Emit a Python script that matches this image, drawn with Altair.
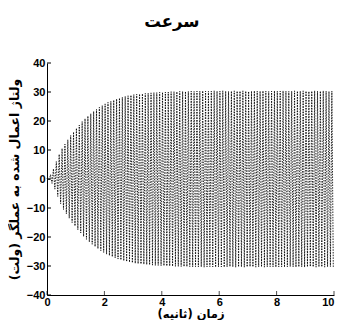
import altair as alt
import pandas as pd

# peak amplitude of each oscillation cycle (0.1 s per cycle)
amp = [0.5, 1.5, 3.5, 6.0, 8.5, 10.5, 12.0, 13.5, 15.0, 16.2,
       17.5, 18.6, 19.8, 20.8, 21.7, 22.5, 23.3, 24.0, 24.7, 25.3,
       25.9, 26.4, 26.8, 27.2, 27.6, 27.9, 28.2, 28.5, 28.7, 28.9,
       29.1, 29.2, 29.3, 29.4, 29.5, 29.6, 29.7, 29.8, 29.8, 29.9,
       29.9, 30.0, 30.0, 30.1, 30.1, 30.1, 30.2, 30.2, 30.2, 30.2,
       30.3, 30.2, 30.3, 30.3, 30.4, 30.3, 30.2, 30.3, 30.4, 30.3,
       30.3, 30.4, 30.3, 30.2, 30.3, 30.4, 30.3, 30.3, 30.4, 30.3,
       30.2, 30.3, 30.4, 30.3, 30.3, 30.4, 30.3, 30.2, 30.3, 30.4,
       30.3, 30.3, 30.4, 30.3, 30.2, 30.3, 30.4, 30.3, 30.3, 30.4,
       30.3, 30.2, 30.3, 30.4, 30.3, 30.3, 30.4, 30.3, 30.2, 30.3]
cycle = 0.1
x_ticks = [0, 2, 4, 6, 8, 10]
y_ticks = [-40, -30, -20, -10, 0, 10, 20, 30, 40]

rows = [{"t": 0.0, "v": 0.0}]
for i, a in enumerate(amp):
    rows.append({"t": i * cycle + cycle * 0.25, "v": a})
    rows.append({"t": i * cycle + cycle * 0.75, "v": -a})
df = pd.DataFrame(rows)

lab_font = "Liberation Sans"

x_scale = alt.Scale(domain=[0, 10], nice=False)
y_scale = alt.Scale(domain=[-40, 40], nice=False)

x_axis = alt.Axis(
    values=x_ticks, title="زمان (ثانیه)", ticks=False, grid=False,
    labelOverlap=False, labelFlush=False,
    labelAlign={"condition": {"test": "datum.value == 10", "value": "right"},
                "value": "center"},
    labelFont=lab_font, labelFontWeight="bold", labelFontSize=11,
    labelColor="black", labelPadding=1, domainColor="black",
    titleFont="DejaVu Sans", titleFontSize=11.5, titleFontWeight="bold",
    titleColor="black", titlePadding=1)
y_axis = alt.Axis(
    values=y_ticks, title="ولتاژ اعمال شده به عملگر (ولت)", ticks=False,
    grid=False, labelOverlap=False, labelFlush=False,
    labelFont=lab_font, labelFontWeight="bold", labelFontSize=11,
    labelColor="black", labelPadding=2, domainColor="black",
    titleFont="DejaVu Sans", titleFontSize=12.5, titleFontWeight="bold",
    titleColor="black", titlePadding=5)

line = alt.Chart(df).mark_line(
    color="black", strokeWidth=1, strokeDash=[1.5, 1.2], opacity=0.85
).encode(
    x=alt.X("t:Q", scale=x_scale, axis=x_axis),
    y=alt.Y("v:Q", scale=y_scale, axis=y_axis),
)

xt = alt.Chart(pd.DataFrame({"t": x_ticks})).mark_tick(
    color="black", orient="vertical", size=4, yOffset=-2, thickness=1
).encode(x=alt.X("t:Q", scale=x_scale, axis=x_axis), y=alt.value("height"))
yt = alt.Chart(pd.DataFrame({"v": y_ticks})).mark_rule(color="black").encode(
    y=alt.Y("v:Q", scale=y_scale, axis=y_axis), x=alt.value(0), x2=alt.value(4))

chart = alt.layer(line, xt, yt).properties(
    width=328, height=312,
    padding={"left": 0, "top": 5, "right": 0, "bottom": 0},
    autosize=alt.AutoSizeParams(type="fit", contains="padding"),
    title=alt.TitleParams("سرعت", font="DejaVu Sans", fontSize=16.5,
                          fontWeight="bold", color="black", offset=27,
                          frame="bounds", anchor="middle"),
).configure_view(stroke=None)

chart.save("out.html", embed_options={"renderer": "svg", "actions": False})
